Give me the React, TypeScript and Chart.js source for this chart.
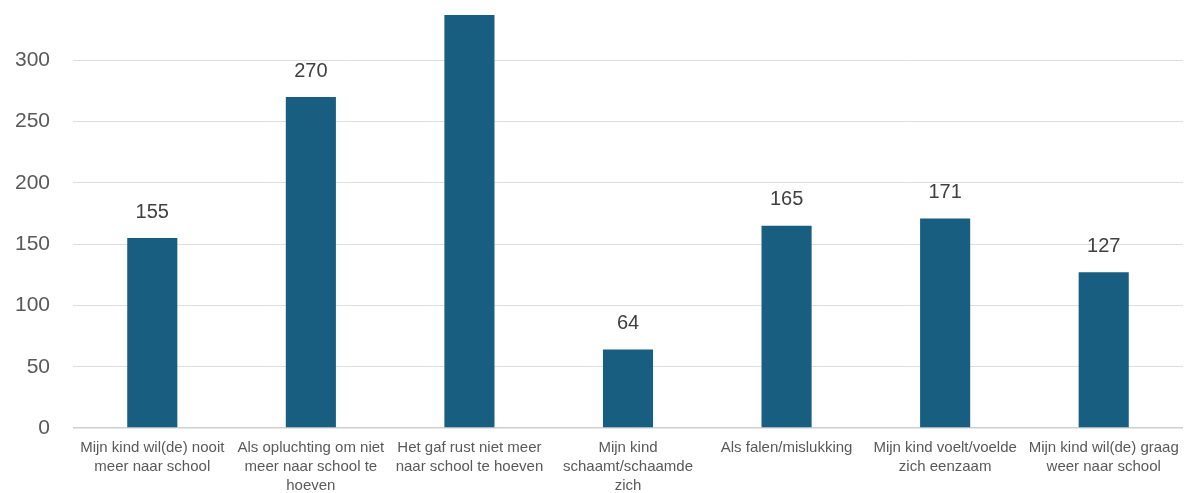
import React, { useEffect, useRef } from "react";
import { Chart, registerables } from "chart.js";

Chart.register(...registerables);

const categories: string[][] = [
  ["Mijn kind wil(de) nooit", "meer naar school"],
  ["Als opluchting om niet", "meer naar school te", "hoeven"],
  ["Het gaf rust niet meer", "naar school te hoeven"],
  ["Mijn kind", "schaamt/schaamde", "zich"],
  ["Als falen/mislukking"],
  ["Mijn kind voelt/voelde", "zich eenzaam"],
  ["Mijn kind wil(de) graag", "weer naar school"],
];
const values: number[] = [155, 270, 337, 64, 165, 171, 127];
const yTicks: number[] = [0, 50, 100, 150, 200, 250, 300];

const BAR_COLOR = "#175E80";
const FONT = "'Liberation Sans', Arial, sans-serif";

const valueLabels = {
  id: "valueLabels",
  afterDatasetsDraw(chart: any) {
    const ctx = chart.ctx;
    const meta = chart.getDatasetMeta(0);
    ctx.save();
    ctx.font = `20px ${FONT}`;
    ctx.fillStyle = "#404040";
    ctx.textAlign = "center";
    ctx.textBaseline = "middle";
    meta.data.forEach((bar: any, i: number) => {
      ctx.fillText(String(values[i]), bar.x, bar.y - 26);
    });
    ctx.restore();
  },
};

export default function App() {
  const ref = useRef<HTMLCanvasElement>(null);
  useEffect(() => {
    if (!ref.current) return;
    const chart = new Chart(ref.current, {
      type: "bar",
      data: {
        labels: categories,
        datasets: [
          {
            data: values,
            backgroundColor: BAR_COLOR,
            borderWidth: 0,
            categoryPercentage: 1,
            barPercentage: 0.316,
          },
        ],
      },
      options: {
        responsive: false,
        animation: false,
        layout: { padding: { top: 39, right: 1, left: 0, bottom: 0 } },
        plugins: { legend: { display: false }, tooltip: { enabled: false } },
        scales: {
          x: {
            afterFit: (scale: any) => {
              scale.paddingLeft = 0;
              scale.paddingRight = 0;
            },
            grid: { display: false, drawTicks: false },
            border: { display: false },
            ticks: {
              color: "#595959",
              font: { family: FONT, size: 15, lineHeight: 19 / 15 },
              padding: 10,
              maxRotation: 0,
              autoSkip: false,
            },
          },
          y: {
            min: 0,
            max: 350,
            afterBuildTicks: (scale: any) => {
              scale.ticks = yTicks.map((v) => ({ value: v }));
            },
            afterFit: (scale: any) => {
              scale.width = 73;
            },
            grid: {
              drawTicks: false,
              color: (c: any) => (c.tick && c.tick.value === 0 ? "#cfcfcf" : "#dedede"),
              lineWidth: (c: any) => (c.tick && c.tick.value === 0 ? 1.5 : 1),
            },
            border: { display: false },
            ticks: {
              color: "#595959",
              font: { family: FONT, size: 21 },
              padding: 23,
            },
          },
        },
      },
      plugins: [valueLabels],
    });
    return () => chart.destroy();
  }, []);
  return (
    <div
      style={{
        position: "fixed",
        left: 0,
        top: 0,
        width: 1184,
        height: 493,
        overflow: "hidden",
        background: "#ffffff",
      }}
    >
      <div style={{ position: "absolute", left: 0, top: -40 }}>
        <canvas ref={ref} width={1184} height={545} style={{ display: "block" }} />
      </div>
    </div>
  );
}
